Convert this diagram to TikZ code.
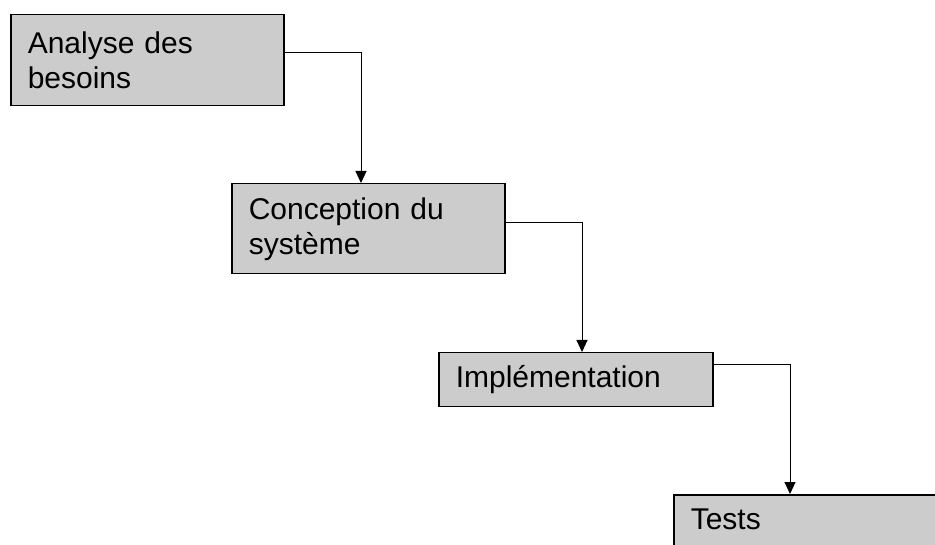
\documentclass[tikz,border=0pt]{standalone}
\usepackage{fontspec}
\setmainfont{Liberation Sans}
\usetikzlibrary{arrows.meta}
\definecolor{boxgray}{RGB}{204,204,204}

\begin{document}
\begin{tikzpicture}[x=1pt,y=-1pt,
  phase/.style={draw=black, line width=1.5pt, fill=boxgray, anchor=north west,
    align=left, inner xsep=17pt, font=\fontsize{30}{35}\selectfont},
  flow/.style={black, line width=1pt, -{Triangle[length=12pt,width=11pt]}}]
\useasboundingbox (0,0) rectangle (935,545);
\clip (0,0) rectangle (935,545);
% the four phases
\node[phase, text width=239pt, minimum height=91pt] (an) at (10,14) {Analyse des\\besoins};
\node[phase, text width=239pt, minimum height=90pt] (co) at (231,183) {Conception du\\syst\`eme};
\node[phase, text width=240pt, minimum height=54pt] (im) at (438,352) {Impl\'ementation};
\node[phase, text width=250pt, inner ysep=14pt, text depth=30pt] (te) at (673,494) {Tests};
% links
\draw[flow] ([yshift=7.5pt]an.east) -| ([xshift=130pt]co.north west);
\draw[flow] ([yshift=6pt]co.east) -| ([xshift=144pt]im.north west);
\draw[flow] ([yshift=15pt]im.east) -| ([xshift=117pt]te.north west);
\end{tikzpicture}
\end{document}
